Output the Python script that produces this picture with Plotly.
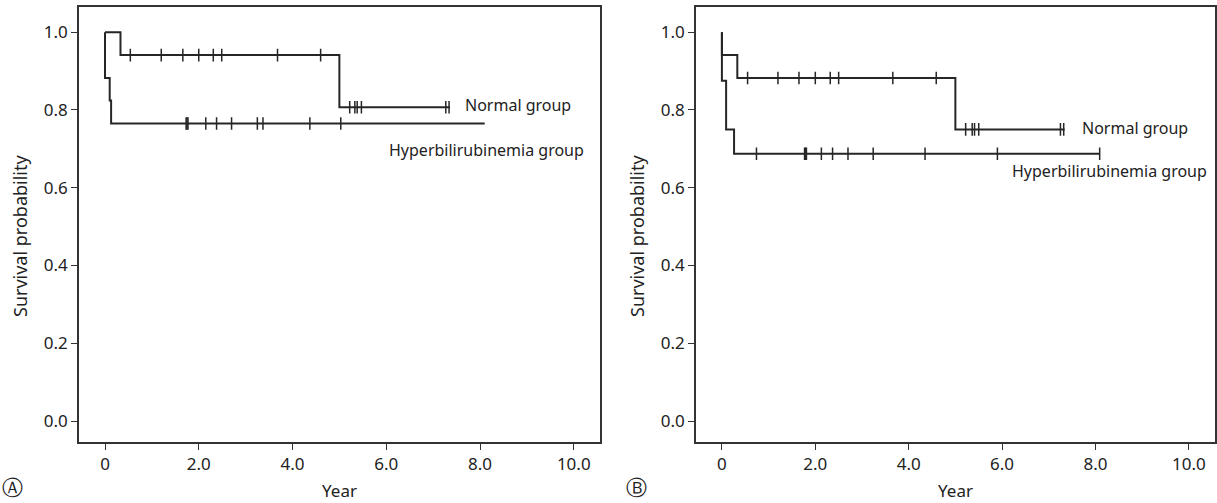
import plotly.graph_objects as go

# ---------------- data ----------------
# Panel A
a_norm_times = [0.0, 0.33, 5.0]
a_norm_surv = [1.0, 0.941, 0.807]
a_norm_end = 7.36
a_norm_cens = [0.54, 1.2, 1.66, 2.0, 2.31, 2.49, 3.68, 4.6, 5.22, 5.33, 5.38, 5.47, 7.27, 7.34]

a_hyp_times = [0.0, 0.0, 0.1, 0.13]
a_hyp_surv = [1.0, 0.882, 0.824, 0.765]
a_hyp_end = 8.1
a_hyp_cens = [1.73, 1.75, 1.77, 2.15, 2.38, 2.7, 3.25, 3.37, 4.37, 5.03]

# Panel B
b_norm_times = [0.0, 0.0, 0.33, 5.0]
b_norm_surv = [1.0, 0.941, 0.882, 0.75]
b_norm_end = 7.34
b_norm_cens = [0.55, 1.2, 1.65, 2.0, 2.32, 2.5, 3.66, 4.59, 5.22, 5.36, 5.41, 5.5, 7.25, 7.32]

b_hyp_times = [0.0, 0.0, 0.09, 0.26]
b_hyp_surv = [1.0, 0.875, 0.75, 0.6875]
b_hyp_end = 8.09
b_hyp_cens = [0.74, 1.77, 1.79, 1.81, 2.13, 2.37, 2.7, 3.24, 4.35, 5.9, 8.09]

x_tickvals = [0, 2, 4, 6, 8, 10]
x_ticktext = ["0", "2.0", "4.0", "6.0", "8.0", "10.0"]
y_tickvals = [0, 0.2, 0.4, 0.6, 0.8, 1.0]
y_ticktext = ["0.0", "0.2", "0.4", "0.6", "0.8", "1.0"]

labels_normal = "Normal group"
labels_hyper = "Hyperbilirubinemia group"

# ---------------- figure ----------------
W, H = 1217, 503
LINE = "#262626"
FONT = "Noto Sans"
TXT = "#222222"

fig = go.Figure()


def surv_at(times, surv, t):
    val = surv[0]
    for ti, si in zip(times, surv):
        if ti <= t:
            val = si
    return val


def add_curve(times, surv, end, cens, xa, ya):
    xs = list(times) + [end]
    ys = list(surv) + [surv[-1]]
    fig.add_trace(go.Scatter(x=xs, y=ys, mode="lines", line=dict(color=LINE, width=2, shape="hv"),
                             xaxis=xa, yaxis=ya, showlegend=False, hoverinfo="skip"))
    cy = [surv_at(times, surv, t) for t in cens]
    fig.add_trace(go.Scatter(x=cens, y=cy, mode="markers",
                             marker=dict(symbol="line-ns", size=9, line=dict(color=LINE, width=1.5)),
                             xaxis=xa, yaxis=ya, showlegend=False, hoverinfo="skip"))


add_curve(a_norm_times, a_norm_surv, a_norm_end, a_norm_cens, "x", "y")
add_curve(a_hyp_times, a_hyp_surv, a_hyp_end, a_hyp_cens, "x", "y")
add_curve(b_norm_times, b_norm_surv, b_norm_end, b_norm_cens, "x2", "y2")
add_curve(b_hyp_times, b_hyp_surv, b_hyp_end, b_hyp_cens, "x2", "y2")

ydom = [1 - 442 / H, 1 - 7.3 / H]
xdomA = [79 / W, 600 / W]
xdomB = [696 / W, 1215 / W]

xcommon = dict(range=[-0.555, 10.56], tickvals=x_tickvals, ticktext=x_ticktext,
               showline=True, linecolor="#333333", linewidth=1.6, mirror=True,
               ticks="outside", ticklen=6, tickwidth=1.4, tickcolor="#333333",
               showgrid=False, zeroline=False,
               tickfont=dict(family=FONT, size=17, color=TXT),
               title=dict(text="Year", font=dict(family=FONT, size=17, color=TXT), standoff=11))
ycommon = dict(range=[-0.054, 1.064], tickvals=y_tickvals, ticktext=y_ticktext,
               showline=True, linecolor="#333333", linewidth=1.6, mirror=True,
               ticks="outside", ticklen=6, tickwidth=1.4, tickcolor="#333333",
               showgrid=False, zeroline=False,
               tickfont=dict(family=FONT, size=17, color=TXT))

fig.update_layout(
    width=W, height=H, margin=dict(l=0, r=0, t=0, b=0),
    paper_bgcolor="white", plot_bgcolor="white",
    xaxis=dict(domain=xdomA, anchor="y", **xcommon),
    yaxis=dict(domain=ydom, anchor="x", **ycommon),
    xaxis2=dict(domain=xdomB, anchor="y2", **xcommon),
    yaxis2=dict(domain=ydom, anchor="x2", **ycommon),
)

anns = [
    dict(x=7.63, y=0.813, xref="x", yref="y", text=labels_normal, xanchor="left", yanchor="middle", size=16),
    dict(x=6.02, y=0.697, xref="x", yref="y", text=labels_hyper, xanchor="left", yanchor="middle", size=16),
    dict(x=7.67, y=0.753, xref="x2", yref="y2", text=labels_normal, xanchor="left", yanchor="middle", size=16),
    dict(x=6.16, y=0.643, xref="x2", yref="y2", text=labels_hyper, xanchor="left", yanchor="middle", size=16),
    dict(x=20 / W, y=1 - 236 / H, xref="paper", yref="paper", text="Survival probability",
         textangle=-90, xanchor="center", yanchor="middle", size=18),
    dict(x=637 / W, y=1 - 236 / H, xref="paper", yref="paper", text="Survival probability",
         textangle=-90, xanchor="center", yanchor="middle", size=18),
    dict(x=0 / W, y=1 - 487 / H, xref="paper", yref="paper", text="Ⓐ",
         xanchor="left", yanchor="middle", size=21),
    dict(x=624 / W, y=1 - 487 / H, xref="paper", yref="paper", text="Ⓑ",
         xanchor="left", yanchor="middle", size=21),
]
for a in anns:
    sz = a.pop("size")
    a.update(showarrow=False, font=dict(family=FONT, size=sz, color=TXT))
fig.update_layout(annotations=anns)

fig.write_html("out.html", config={"displayModeBar": False},
               post_script="document.body.style.margin='0';document.body.style.padding='0';")
